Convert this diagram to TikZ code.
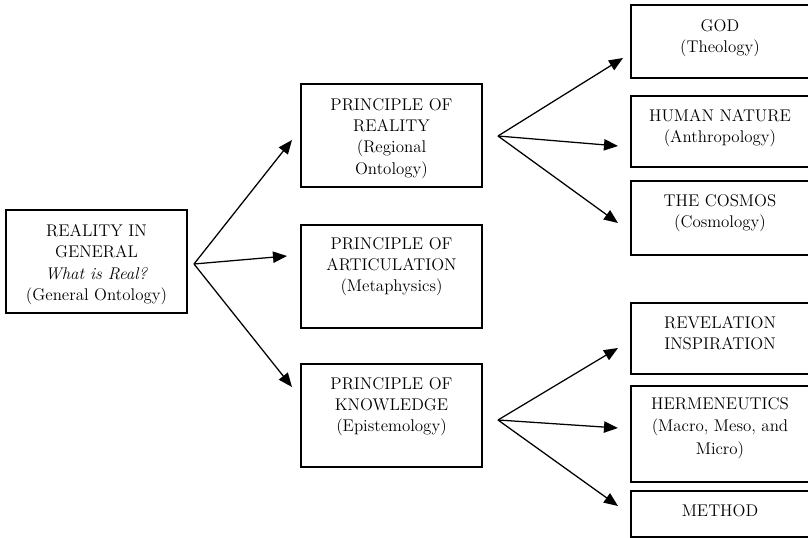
\documentclass[tikz,border=0pt]{standalone}
\usetikzlibrary{arrows.meta}
\begin{document}
\begin{tikzpicture}[x=0.75pt,y=-0.75pt,
  box/.style={draw=black, line width=0.95pt, rectangle, inner sep=0pt},
  txt/.style={align=center, inner sep=0pt, anchor=north, font=\fontsize{12.7}{16}\selectfont},
  arr/.style={draw=black, line width=0.95pt, -{Triangle[length=10.5pt,width=8.5pt]}}]
\useasboundingbox (0,0) rectangle (808,538);
% left box
\node[box, minimum width=135.75pt, minimum height=77.25pt] (A) at (96.5,261.5) {};
\node[txt] (At) at (96.5,224) {REALITY IN\\GENERAL\\\textit{What is Real?}\\(General Ontology)};
% middle boxes
\node[box, minimum width=135.75pt, minimum height=77.25pt] (B1) at (391.5,135.5) {};
\node[txt] (B1t) at (391.5,98) {PRINCIPLE OF\\REALITY\\(Regional\\Ontology)};
\node[box, minimum width=135.75pt, minimum height=77.25pt] (B2) at (391.5,276.5) {};
\node[txt] (B2t) at (391.5,237) {PRINCIPLE OF\\ARTICULATION\\(Metaphysics)};
\node[box, minimum width=135.75pt, minimum height=77.25pt] (B3) at (391.5,415.5) {};
\node[txt] (B3t) at (391.5,377) {PRINCIPLE OF\\KNOWLEDGE\\(Epistemology)};
% right boxes
\node[box, minimum width=133.5pt, minimum height=54.75pt] (C1) at (720,41.5) {};
\node[txt] (C1t) at (720,19) {GOD\\(Theology)};
\node[box, minimum width=133.5pt, minimum height=53.25pt] (C2) at (720,131.5) {};
\node[txt] (C2t) at (720,109) {HUMAN NATURE\\(Anthropology)};
\node[box, minimum width=133.5pt, minimum height=55.5pt] (C3) at (720,218) {};
\node[txt] (C3t) at (720,194) {THE COSMOS\\(Cosmology)};
\node[box, minimum width=133.5pt, minimum height=53.25pt] (D1) at (720,338.5) {};
\node[txt] (D1t) at (720,316) {REVELATION\\INSPIRATION};
\node[box, minimum width=133.5pt, minimum height=72pt] (D2) at (720,434) {};
\node[txt, font=\fontsize{12.7}{17}\selectfont] (D2t) at (720,397) {HERMENEUTICS\\(Macro, Meso, and\\Micro)};
\node[box, minimum width=133.5pt, minimum height=34.5pt] (D3) at (720,514) {};
\node[txt] (D3t) at (720,504) {METHOD};
% connector points
\coordinate (o1) at (194,264);
\coordinate (t11) at (292,140);
\coordinate (t12) at (287,256);
\coordinate (t13) at (292,387);
\coordinate (o2) at (498,136);
\coordinate (t21) at (623,58);
\coordinate (t22) at (618,146);
\coordinate (t23) at (618,223);
\coordinate (o3) at (498,420);
\coordinate (t31) at (618,348);
\coordinate (t32) at (618,428);
\coordinate (t33) at (618,506);
\draw[arr] (o1) -- (t11);
\draw[arr] (o1) -- (t12);
\draw[arr] (o1) -- (t13);
\draw[arr] (o2) -- (t21);
\draw[arr] (o2) -- (t22);
\draw[arr] (o2) -- (t23);
\draw[arr] (o3) -- (t31);
\draw[arr] (o3) -- (t32);
\draw[arr] (o3) -- (t33);
\end{tikzpicture}
\end{document}
